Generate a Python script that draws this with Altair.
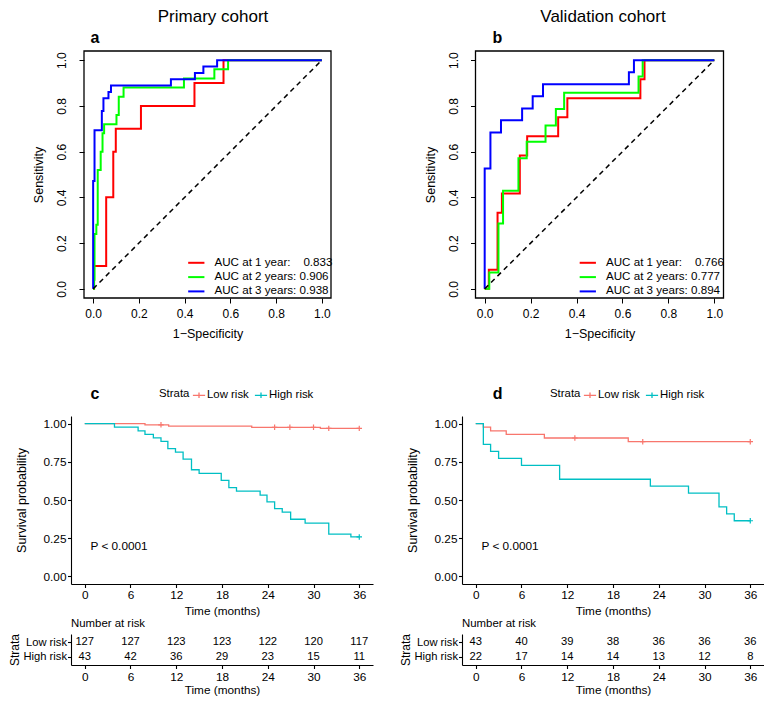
import altair as alt
import pandas as pd

FONT = "Liberation Sans"

# ---------------- ROC data (step vertices: 1-specificity, sensitivity) ----------------
roc_a1_fpr = [0, 0.004, 0.057, 0.088, 0.099, 0.209, 0.443, 0.570, 1.0]
roc_a1_tpr = [0, 0.100, 0.400, 0.600, 0.700, 0.800, 0.900, 1.000, 1.0]
roc_a2_fpr = [0, 0.004, 0.006, 0.014, 0.020, 0.033, 0.041, 0.048, 0.102, 0.112, 0.133, 0.397, 0.530, 0.590, 1.0]
roc_a2_tpr = [0, 0.04, 0.24, 0.28, 0.52, 0.60, 0.68, 0.72, 0.76, 0.84, 0.88, 0.92, 0.96, 1.0, 1.0]
roc_a3_fpr = [0, 0.000, 0.006, 0.038, 0.045, 0.067, 0.078, 0.340, 0.445, 0.482, 0.542, 1.0]
roc_a3_tpr = [0, 0.472, 0.694, 0.778, 0.833, 0.861, 0.889, 0.917, 0.944, 0.972, 1.0, 1.0]

roc_b1_fpr = [0, 0.018, 0.056, 0.075, 0.153, 0.185, 0.320, 0.360, 0.678, 0.696, 1.0]
roc_b1_tpr = [0, 0.083, 0.333, 0.417, 0.583, 0.667, 0.750, 0.833, 0.917, 1.0, 1.0]
roc_b2_fpr = [0, 0.020, 0.060, 0.080, 0.147, 0.183, 0.265, 0.310, 0.346, 0.670, 0.688, 1.0]
roc_b2_tpr = [0, 0.071, 0.286, 0.429, 0.571, 0.643, 0.714, 0.786, 0.857, 0.929, 1.0, 1.0]
roc_b3_fpr = [0, 0.000, 0.025, 0.071, 0.163, 0.209, 0.254, 0.628, 0.650, 1.0]
roc_b3_tpr = [0, 0.526, 0.684, 0.737, 0.789, 0.842, 0.895, 0.947, 1.0, 1.0]

NB = "\u00a0"
roc_a_labels = ["AUC at 1 year:" + NB * 4 + "0.833", "AUC at 2 years: 0.906", "AUC at 3 years: 0.938"]
roc_b_labels = ["AUC at 1 year:" + NB * 4 + "0.766", "AUC at 2 years: 0.777", "AUC at 3 years: 0.894"]
ROC_COLORS = ["#FF0000", "#00FF00", "#0000FF"]
ROC_EXPAND = 0.04  # R's default 4% axis extension

# ---------------- Kaplan-Meier data ----------------
strata = ["Low risk", "High risk"]
KM_COLORS = ["#F8766D", "#00BFC4"]

km_c_low_time = [0, 7.9, 11.0, 21.9, 30.9, 36]
km_c_low_surv = [1, 0.992, 0.984, 0.976, 0.969, 0.969]
km_c_low_cens_time = [10.0, 24.9, 26.9, 30.0, 32.0, 36.0]
km_c_low_cens_surv = [0.992, 0.976, 0.976, 0.976, 0.969, 0.969]
km_c_high_time = [0, 3.9, 7.0, 7.9, 9.0, 10.0, 10.9, 11.9, 12.9, 14.0, 15.0, 17.9, 18.9,
                  19.9, 23.0, 23.9, 24.9, 25.9, 27.0, 28.9, 32.0, 34.9, 36]
km_c_high_surv = [1, 0.977, 0.953, 0.930, 0.907, 0.884, 0.837, 0.814, 0.767, 0.698, 0.674, 0.628, 0.581,
                  0.558, 0.532, 0.488, 0.444, 0.421, 0.374, 0.348, 0.276, 0.258, 0.258]
km_c_high_cens_time = [36.0]
km_c_high_cens_surv = [0.258]

km_d_low_time = [0, 1.0, 1.95, 4.0, 9.0, 20.0, 36]
km_d_low_surv = [1, 0.977, 0.953, 0.930, 0.906, 0.882, 0.882]
km_d_low_cens_time = [13.0, 21.9, 36.0]
km_d_low_cens_surv = [0.906, 0.882, 0.882]
km_d_high_time = [0, 1.0, 1.95, 3.0, 6.0, 11.0, 22.9, 27.9, 31.9, 32.9, 33.9, 36]
km_d_high_surv = [1, 0.864, 0.818, 0.773, 0.727, 0.636, 0.591, 0.545, 0.455, 0.409, 0.364, 0.364]
km_d_high_cens_time = [36.0]
km_d_high_cens_surv = [0.364]

risk_times = [0, 6, 12, 18, 24, 30, 36]
risk_c_low = [127, 127, 123, 123, 122, 120, 117]
risk_c_high = [43, 42, 36, 29, 23, 15, 11]
risk_d_low = [43, 40, 39, 38, 36, 36, 36]
risk_d_high = [22, 17, 14, 14, 13, 12, 8]

# ---------------- layout sizes ----------------
W_ROC_A, W_ROC_B, H_ROC = 247, 248, 247
LEFT_A, LEFT_B = 13, 13.5      # blank strip left of the ROC frames
W_KM, H_KM, H_TAB = 302, 168, 31

AX = dict(grid=False, tickColor="black", domainColor="black", labelColor="black",
          titleColor="black", titleFontWeight="normal", labelFlush=False, labelOverlap=False,
          labelFont=FONT, titleFont=FONT)


def roc_panel(curves, labels, title_text, title_x, letter, letter_x, w, left, h):
    rows = []
    for lab, (fx, ty) in zip(labels, curves):
        for i, (x, y) in enumerate(zip(fx, ty)):
            rows.append({"fpr": x, "tpr": y, "curve": lab, "i": i})
    df = pd.DataFrame(rows)
    lo, hi = -ROC_EXPAND, 1 + ROC_EXPAND
    extra = left / w * (hi - lo)
    xsc = alt.Scale(domain=[lo - extra, hi], nice=False, zero=False)
    ysc = alt.Scale(domain=[lo, hi], nice=False, zero=False)
    ticks = [0, 0.2, 0.4, 0.6, 0.8, 1.0]
    xaxis = alt.Axis(values=ticks, format=".1f", title="1\u2212Specificity", domain=False,
                     tickSize=5, tickWidth=1, labelFontSize=12, labelPadding=5,
                     titleFontSize=12.5, titlePadding=8, titleX=left + w / 2, **AX)
    yaxis = alt.Axis(values=ticks, format=".1f", title="Sensitivity", domain=False, offset=-left,
                     tickSize=5, tickWidth=1, labelFontSize=12, labelPadding=10.5,
                     labelAngle=270, labelAlign="center", labelBaseline="bottom",
                     titleFontSize=12.5, titlePadding=10, **AX)
    X = alt.X("fpr:Q", scale=xsc, axis=xaxis)
    Y = alt.Y("tpr:Q", scale=ysc, axis=yaxis)
    frame = alt.Chart(pd.DataFrame({"fpr": [lo], "fpr2": [hi], "tpr": [lo], "tpr2": [hi]})).mark_rect(
        fillOpacity=0, stroke="black", strokeWidth=1.3).encode(x=X, x2="fpr2:Q", y=Y, y2="tpr2:Q")
    lines = alt.Chart(df).mark_line(interpolate="step-after", strokeWidth=2).encode(
        x=X, y=Y,
        color=alt.Color("curve:N", scale=alt.Scale(domain=labels, range=ROC_COLORS),
                        legend=alt.Legend(orient="none", legendX=left + 106.5, legendY=h - 41, title=None,
                                          symbolType="M-2,0H2", symbolSize=66, symbolStrokeWidth=2,
                                          labelFontSize=11.6, labelFont=FONT, labelColor="black",
                                          labelOffset=12.4, rowPadding=1.3, padding=0)),
        order=alt.Order("i:Q"),
    )
    diag = alt.Chart(pd.DataFrame({"fpr": [0, 1], "tpr": [0, 1]})).mark_line(
        color="black", strokeDash=[5, 4], strokeWidth=1.5).encode(x=X, y=Y)
    ttl = alt.Chart(pd.DataFrame({"t": [title_text]})).mark_text(
        fontSize=17, align="center", baseline="alphabetic", color="black", font=FONT).encode(
        x=alt.value(left + title_x), y=alt.value(-29), text="t:N")
    let = alt.Chart(pd.DataFrame({"t": [letter]})).mark_text(
        fontSize=16, fontWeight="bold", align="left", baseline="alphabetic", color="black", font=FONT).encode(
        x=alt.value(left + letter_x), y=alt.value(-8.5), text="t:N")
    return alt.layer(frame, lines, diag, ttl, let).properties(width=w + left, height=h)


km_xscale = alt.Scale(domain=[-1.8, 37.8], nice=False, zero=False)


def km_panel(lt, ls, ht, hs, lct, lcs, hct, hcs, letter, letter_x, w, h):
    rows = []
    for g, tt, ss in [("Low risk", lt, ls), ("High risk", ht, hs)]:
        for i, (t, s) in enumerate(zip(tt, ss)):
            rows.append({"time": t, "surv": s, "group": g, "i": i})
    df = pd.DataFrame(rows)
    xaxis = alt.Axis(values=risk_times, title="Time (months)", tickSize=3.5, tickWidth=1.1,
                     domainWidth=1.1, labelFontSize=11.8, labelPadding=1.5,
                     titleFontSize=11.8, titlePadding=5, **AX)
    yaxis = alt.Axis(values=[0, 0.25, 0.5, 0.75, 1.0], format=".2f", title="Survival probability",
                     tickSize=3.5, tickWidth=1.1, domainWidth=1.1, labelFontSize=11.8,
                     labelPadding=1.5, titleFontSize=12.5, titlePadding=15, **AX)
    X = alt.X("time:Q", scale=km_xscale, axis=xaxis)
    Y = alt.Y("surv:Q", scale=alt.Scale(domain=[-0.05, 1.05], nice=False, zero=False), axis=yaxis)
    lines = alt.Chart(df).mark_line(interpolate="step-after", strokeWidth=1.3).encode(
        x=X, y=Y,
        color=alt.Color("group:N", scale=alt.Scale(domain=strata, range=KM_COLORS),
                        legend=alt.Legend(orient="none", direction="horizontal", legendX=88, legendY=-28,
                                          title="Strata", titleOrient="left", titleFontSize=11.4,
                                          titleFontWeight="normal", titleFont=FONT, titleColor="black",
                                          titlePadding=2, symbolType="M-1,0H1M0,-0.45V0.45",
                                          symbolSize=149, symbolStrokeWidth=1.3,
                                          labelFontSize=11.4, labelFont=FONT, labelColor="black",
                                          labelOffset=1, columnPadding=3, padding=0)),
        order=alt.Order("i:Q"),
    )
    layers = [lines]
    for col, ct, cs in [(KM_COLORS[0], lct, lcs), (KM_COLORS[1], hct, hcs)]:
        cdf = pd.DataFrame({"time": ct, "surv": cs})
        layers.append(alt.Chart(cdf).mark_point(shape="M-1,0H1M0,-1V1", size=30, strokeWidth=1.2,
                                                filled=False, opacity=1, color=col).encode(x=X, y=Y))
    pv = alt.Chart(pd.DataFrame({"time": [0.75], "surv": [0.2], "t": ["P < 0.0001"]})).mark_text(
        fontSize=11.8, align="left", baseline="middle", color="black", font=FONT).encode(x=X, y=Y, text="t:N")
    let = alt.Chart(pd.DataFrame({"t": [letter]})).mark_text(
        fontSize=16, fontWeight="bold", align="left", baseline="alphabetic", color="black", font=FONT).encode(
        x=alt.value(letter_x), y=alt.value(-17.3), text="t:N")
    layers += [pv, let]
    return alt.layer(*layers).properties(width=w, height=h)


def risk_panel(low, high, w, h):
    rows = [{"time": t, "group": "Low risk", "n": n} for t, n in zip(risk_times, low)]
    rows += [{"time": t, "group": "High risk", "n": n} for t, n in zip(risk_times, high)]
    df = pd.DataFrame(rows)
    xaxis = alt.Axis(values=risk_times, title="Time (months)", tickSize=3.5, tickWidth=1.1,
                     domainWidth=1.1, labelFontSize=11.8, labelPadding=3,
                     titleFontSize=11.8, titlePadding=1.5, **AX)
    yaxis = alt.Axis(title="Strata", tickSize=3.5, tickWidth=1.1, domainWidth=1.1,
                     labelFontSize=11.2, labelPadding=1, titleFontSize=12, titlePadding=1, **AX)
    return alt.Chart(df).mark_text(fontSize=11.2, color="black", font=FONT).encode(
        x=alt.X("time:Q", scale=km_xscale, axis=xaxis),
        y=alt.Y("group:N", scale=alt.Scale(type="point", domain=strata, padding=0.6), axis=yaxis),
        text="n:Q",
    ).properties(width=w, height=h,
                 title=alt.TitleParams("Number at risk", anchor="start", frame="group", fontSize=11.4,
                                       fontWeight="normal", font=FONT, color="black", offset=4))


spacer_df = pd.DataFrame({"v": [0]})


def spacer(w, h):
    return alt.Chart(spacer_df).mark_point(opacity=0).encode(
        x=alt.X("v:Q", axis=None), y=alt.Y("v:Q", axis=None)).properties(width=w, height=h)


pa = roc_panel([(roc_a1_fpr, roc_a1_tpr), (roc_a2_fpr, roc_a2_tpr), (roc_a3_fpr, roc_a3_tpr)],
               roc_a_labels, "Primary cohort", 129, "a", 6.5, W_ROC_A, LEFT_A, H_ROC)
pb = roc_panel([(roc_b1_fpr, roc_b1_tpr), (roc_b2_fpr, roc_b2_tpr), (roc_b3_fpr, roc_b3_tpr)],
               roc_b_labels, "Validation cohort", 127.5, "b", 17, W_ROC_B, LEFT_B, H_ROC)
pc = km_panel(km_c_low_time, km_c_low_surv, km_c_high_time, km_c_high_surv,
              km_c_low_cens_time, km_c_low_cens_surv, km_c_high_cens_time, km_c_high_cens_surv,
              "c", 19.6, W_KM, H_KM)
pd_ = km_panel(km_d_low_time, km_d_low_surv, km_d_high_time, km_d_high_surv,
               km_d_low_cens_time, km_d_low_cens_surv, km_d_high_cens_time, km_d_high_cens_surv,
               "d", 30.8, W_KM, H_KM)
tc = risk_panel(risk_c_low, risk_c_high, W_KM, H_TAB)
td = risk_panel(risk_d_low, risk_d_high, W_KM, H_TAB)

cells = [pa, pb, spacer(1, 18), spacer(1, 18), pc, pd_, tc, td]

chart = alt.concat(*cells, columns=2, spacing={"row": 50, "column": 89}, bounds="flush",
                   align="each").resolve_scale(color="independent").resolve_legend(
    color="independent").properties(
    padding={"left": 0, "top": 0, "right": 0, "bottom": 0}
).configure(font=FONT).configure_view(strokeWidth=0)

chart.save("out.html", embed_options={"renderer": "svg", "actions": False})
